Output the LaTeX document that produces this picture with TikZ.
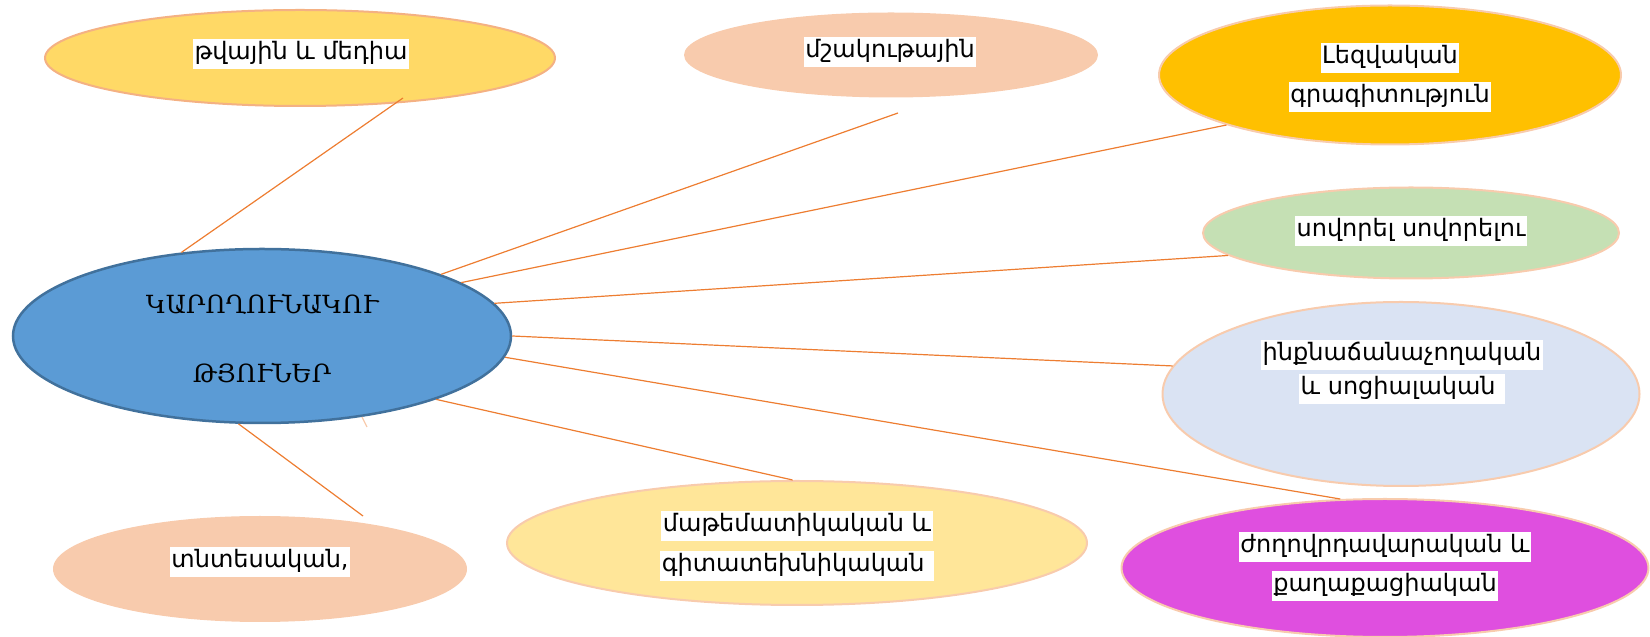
\documentclass[tikz,border=0pt]{standalone}
\usepackage{fontspec}
\usetikzlibrary{shapes.geometric}
\setmainfont{DejaVu Sans}
\newfontfamily\centerfont{DejaVu Serif}
\definecolor{cfill}{HTML}{5B9BD5}
\definecolor{cdraw}{HTML}{41719C}
\definecolor{peach}{HTML}{F8CBAD}
\definecolor{peachd}{HTML}{F4B183}
\definecolor{gold}{HTML}{FFD966}
\definecolor{amber}{HTML}{FFC000}
\definecolor{lgreen}{HTML}{C5E0B4}
\definecolor{lblue}{HTML}{DAE3F3}
\definecolor{magent}{HTML}{DF4FDF}
\definecolor{lyellow}{HTML}{FFE699}
\definecolor{lineor}{HTML}{ED7D31}
\setlength{\lineskiplimit}{-100pt}
\newcommand\hlw[1]{{\setlength{\fboxsep}{1.5pt}\colorbox{white}{\rule[-8pt]{0pt}{27pt}#1}}}
\begin{document}
\begin{tikzpicture}[x=1pt,y=1pt,
  bub/.style={ellipse, inner sep=0pt, line width=2pt},
  lbl/.style={align=center, inner sep=0pt, font=\fontsize{24}{39}\selectfont},
  conn/.style={draw=lineor, line width=1.2pt}]
\useasboundingbox (0,0) rectangle (1650,637);
% ellipses
\node[bub, fill=cfill, draw=cdraw, line width=2.5pt, minimum width=498, minimum height=174] (c) at (262,301) {};
\node[bub, fill=gold, draw=peachd, minimum width=510, minimum height=96] (e1) at (300,579) {};
\node[bub, fill=peach, minimum width=414, minimum height=85] (e2) at (891,582) {};
\node[bub, fill=amber, draw=peach, minimum width=462, minimum height=139] (e3) at (1390,562) {};
\node[bub, fill=lgreen, draw=peach, minimum width=416, minimum height=91] (e4) at (1411,404) {};
\node[bub, fill=lblue, draw=peach, minimum width=477, minimum height=184] (e5) at (1401,243) {};
\node[bub, fill=magent, draw=peach, minimum width=527, minimum height=138] (e6) at (1385,69) {};
\node[bub, fill=lyellow, draw=peach, minimum width=580, minimum height=124] (e7) at (797,94) {};
\node[bub, fill=peach, minimum width=414, minimum height=106] (e8) at (260,68) {};
% texts
\node[inner sep=0pt, font=\centerfont\fontsize{25}{30}\selectfont] (ct1) at (262,333) {ԿԱՐՈՂՈՒՆԱԿՈՒ};
\node[inner sep=0pt, font=\centerfont\fontsize{25}{30}\selectfont] (ct2) at (262,264) {ԹՅՈՒՆԵՐ};
\node[lbl] (t1) at (301,583) {\hlw{թվային և մեդիա}};
\node[lbl] (t2) at (890,585) {\hlw{մշակութային}};
\node[lbl] (t3) at (1390,559) {\hlw{Լեզվական}\\\hlw{գրագիտություն}};
\node[lbl] (t4) at (1411,406) {\hlw{սովորել սովորելու}};
\node[lbl, font=\fontsize{24}{34}\selectfont] (t5) at (1402,265) {\hlw{ինքնաճանաչողական}\\\hlw{և սոցիալական }};
\node[lbl] (t6) at (1385,70) {\hlw{ժողովրդավարական և}\\\hlw{քաղաքացիական}};
\node[lbl, font=\fontsize{24}{40}\selectfont] (t7) at (797,91) {\hlw{մաթեմատիկական և}\\\hlw{գիտատեխնիկական }};
\node[lbl] (t8) at (260,75) {\hlw{տնտեսական,}};
% free ends
\coordinate (f1) at (403,539);
\coordinate (f2) at (898,524);
\coordinate (f8) at (363,121);
\coordinate (f9) at (367,210);
% connectors
\draw[conn] (c.134) -- (f1);
\draw[conn] (c.19.7) -- (f2);
\draw[conn] (c.15.3) -- (e3.197);
\draw[conn] (c.8.3) -- (e4.187);
\draw[conn] (c.0.7) -- (e5.173.7);
\draw[conn] (c.-5.7) -- (e6.123.3);
\draw[conn] (c.-20.7) -- (e7.94.6);
\draw[conn] (c.-105.6) -- (f8);
\draw[draw=peach, line width=1.2pt] (c.-39.6) -- (f9);
\end{tikzpicture}
\end{document}
